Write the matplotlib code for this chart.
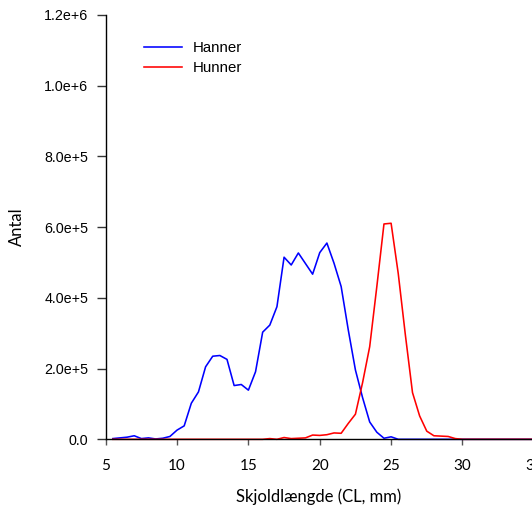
import matplotlib
matplotlib.use("Agg")
import matplotlib.pyplot as plt
import numpy as np

# --- data ---
cl_mm = [5.5, 6.0, 6.5, 7.0, 7.5, 8.0, 8.5, 9.0, 9.5, 10.0,
         10.5, 11.0, 11.5, 12.0, 12.5, 13.0, 13.5, 14.0, 14.5, 15.0,
         15.5, 16.0, 16.5, 17.0, 17.5, 18.0, 18.5, 19.0, 19.5, 20.0,
         20.5, 21.0, 21.5, 22.0, 22.5, 23.0, 23.5, 24.0, 24.5, 25.0,
         25.5, 26.0, 26.5, 27.0, 27.5, 28.0, 28.5, 29.0, 29.5, 30.0,
         30.5, 31.0, 31.5, 32.0, 32.5, 33.0, 33.5, 34.0, 34.5, 35.0]

hanner = [2000, 4000, 6000, 10000, 2000, 4000, 1000, 3000, 8000, 26000,
          38000, 102000, 134000, 205000, 235000, 237000, 226000, 152000, 155000, 139000,
          191000, 303000, 323000, 375000, 515000, 493000, 527000, 497000, 467000, 528000,
          555000, 498000, 432000, 309000, 196000, 118000, 49000, 20000, 3000, 7000,
          0, 0, 0, 0, 0, 0, 0, 0, 0, 0,
          0, 0, 0, 0, 0, 0, 0, 0, 0, 0]

hunner = [0, 0, 0, 0, 0, 0, 0, 0, 0, 0,
          0, 0, 0, 0, 0, 0, 0, 0, 0, 0,
          0, 0, 2000, 0, 5000, 2000, 3000, 4000, 12000, 11000,
          13000, 18000, 17000, 45000, 71000, 160000, 262000, 432000, 609000, 611000,
          469000, 295000, 132000, 66000, 23000, 10000, 9000, 8000, 2000, 0,
          0, 0, 0, 0, 0, 0, 0, 0, 0, 0]

x_ticks = [5, 10, 15, 20, 25, 30, 35]
y_ticks = [0, 200000, 400000, 600000, 800000, 1000000, 1200000]
y_tick_labels = ["0.0", "2.0e+5", "4.0e+5", "6.0e+5", "8.0e+5", "1.0e+6", "1.2e+6"]
series_names = ["Hanner", "Hunner"]
x_label = "Skjoldlængde (CL, mm)"
y_label = "Antal"

# --- figure ---
W, H = 532, 514
fig = plt.figure(figsize=(W / 100, H / 100), dpi=100)
ax = fig.add_axes([105.7 / W, (H - 439.3) / H, 428.1 / W, 424.3 / H])

ax.plot(cl_mm, hanner, color="#0000ff", lw=1.15, label=series_names[0], clip_on=False)
ax.plot(cl_mm, hunner, color="#ff0000", lw=1.15, label=series_names[1], clip_on=False)

ax.set_xlim(5, 35)
ax.set_ylim(0, 1200000)
ax.spines["top"].set_visible(False)
ax.spines["right"].set_visible(False)
for s in ("left", "bottom"):
    ax.spines[s].set_linewidth(1.0)
    ax.spines[s].set_color("#000000")

ax.set_xticks(x_ticks)
ax.set_xticklabels([str(t) for t in x_ticks], fontfamily="Lato", fontsize=11)
ax.set_yticks(y_ticks)
ax.set_yticklabels(y_tick_labels, fontfamily="Liberation Sans", fontsize=10.3)
ax.tick_params(axis="x", direction="out", length=4.3, width=1.0, pad=10, color="#555555")
ax.tick_params(axis="y", direction="out", length=6.5, width=1.0, pad=6, color="#333333")

fig.text(318.8 / W, 1 - 496.7 / H, x_label, ha="center", va="center",
         fontfamily="Lato", fontsize=12)
fig.text(17 / W, 1 - 226.7 / H, y_label, ha="center", va="center", rotation=90,
         fontfamily="Lato", fontsize=12)

leg = ax.legend(loc="upper left", bbox_to_anchor=(144 / W, 1 - 41 / H),
                bbox_transform=fig.transFigure, frameon=False,
                prop={"family": "Liberation Sans", "size": 10.8},
                handlelength=2.55, handletextpad=0.72, labelspacing=0.4,
                borderpad=0, borderaxespad=0)

fig.savefig("out.png", dpi=100)
